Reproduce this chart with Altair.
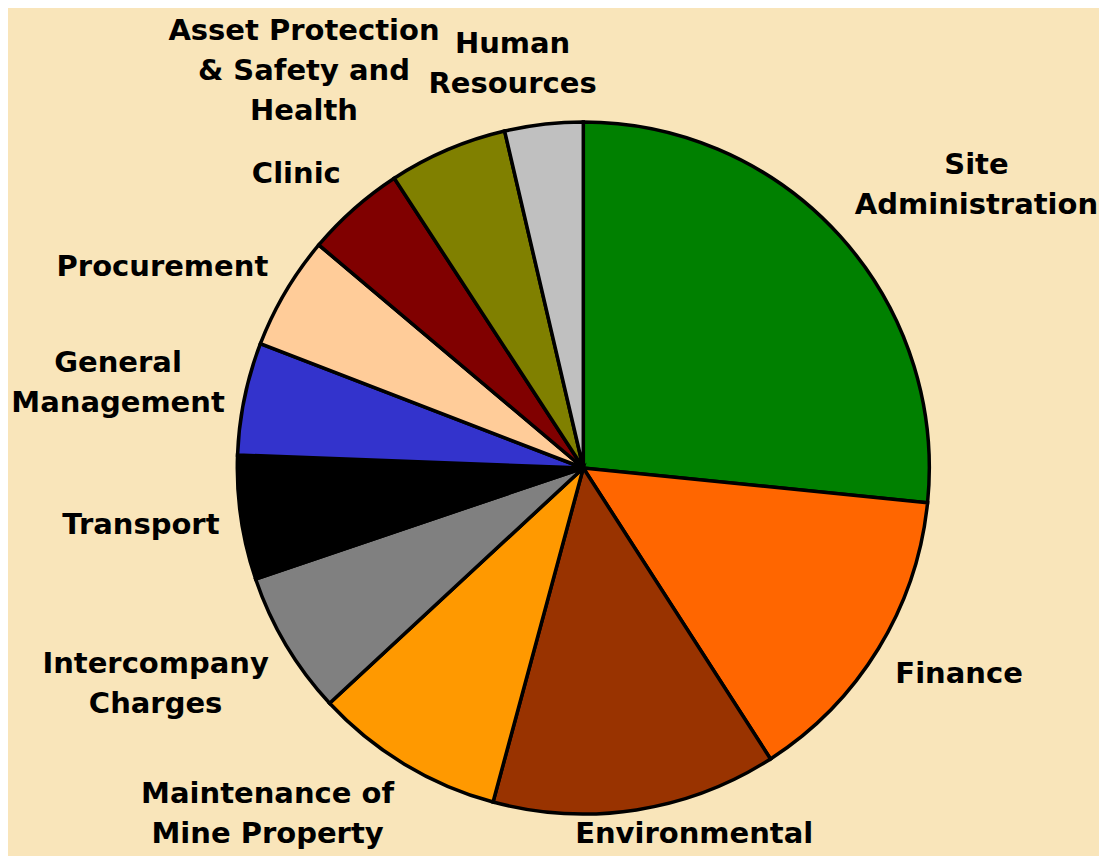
import altair as alt
import pandas as pd

# ---- data ----
categories = [
    "Site Administration", "Finance", "Environmental",
    "Maintenance of Mine Property", "Intercompany Charges", "Transport",
    "General Management", "Procurement", "Clinic",
    "Asset Protection & Safety and Health", "Human Resources",
]
label_text = [
    "Site\nAdministration", "Finance", "Environmental",
    "Maintenance of\nMine Property", "Intercompany\nCharges", "Transport",
    "General\nManagement", "Procurement", "Clinic",
    "Asset Protection\n& Safety and\nHealth", "Human\nResources",
]
shares = [26.6, 14.3, 13.3, 8.9, 6.7, 5.8, 5.25, 5.3, 4.65, 5.55, 3.65]
colors = [
    "#008000", "#FF6600", "#993300", "#FF9900", "#808080", "#000000",
    "#3333CC", "#FFCC99", "#800000", "#808000", "#C0C0C0",
]

# approximate advance widths (em) of DejaVu Sans Bold, used to centre label blocks
GLYPH_EM = {
    "A": 0.774, "C": 0.734, "E": 0.683, "F": 0.683, "G": 0.821, "H": 0.837,
    "I": 0.372, "M": 0.995, "P": 0.733, "R": 0.770, "S": 0.720, "T": 0.682,
    "a": 0.675, "b": 0.716, "c": 0.593, "d": 0.716, "e": 0.678, "f": 0.435,
    "g": 0.716, "h": 0.712, "i": 0.343, "l": 0.343, "m": 1.042, "n": 0.712,
    "o": 0.687, "p": 0.716, "r": 0.493, "s": 0.595, "t": 0.478, "u": 0.712,
    "v": 0.652, "y": 0.652, "&": 0.872, " ": 0.348,
}


def line_em(s):
    return sum(GLYPH_EM.get(ch, 0.65) for ch in s)


df = pd.DataFrame({
    "category": categories,
    "label": label_text,
    "share": shares,
    "idx": list(range(len(categories))),
})
df["nlines"] = [len(s.split("\n")) for s in label_text]
df["wem"] = [max(line_em(p) for p in s.split("\n")) for s in label_text]

# ---- layout / style ----
BG = "#F9E5BA"
W, H = 1091, 848
CX, CY, R = 575.3, 460.0, 346
RL = R + 20
LH = 40
FS = 29
YMAX = H - 12  # keep the last label line inside the chart

base = alt.Chart(df)

pie = base.mark_arc(outerRadius=R, stroke="black", strokeWidth=3.5, strokeJoin="miter").encode(
    theta=alt.Theta("share:Q", stack=True),
    color=alt.Color("category:N", scale=alt.Scale(domain=categories, range=colors), legend=None),
    order=alt.Order("idx:Q"),
    x=alt.value(CX),
    y=alt.value(CY),
)

labels = (
    base.transform_joinaggregate(total="sum(share)")
    .transform_window(cum="sum(share)", sort=[alt.SortField("idx")], frame=[None, 0])
    .transform_calculate(mid="2*PI*(datum.cum - datum.share/2)/datum.total")
    .transform_calculate(
        sx="clamp(3*sin(datum.mid), -1, 1)",
        sy="clamp(1.4*cos(datum.mid), -1, 1)",
    )
    .transform_calculate(
        lx=f"{CX} + {RL}*sin(datum.mid) + datum.sx*datum.wem*{FS}/2",
        ly0=f"{CY} - {RL}*cos(datum.mid) - datum.sy*datum.nlines*{LH}/2 - (datum.nlines-1)*{LH}/2",
    )
    .transform_calculate(
        ly=f"min(datum.ly0, {YMAX} - 10 - (datum.nlines-1)*{LH})",
    )
    .mark_text(
        align="center", baseline="middle", font="DejaVu Sans", fontWeight="bold",
        fontSize=FS, lineHeight=LH, lineBreak="\n", color="black",
    )
    .encode(
        x=alt.X("lx:Q", scale=None),
        y=alt.Y("ly:Q", scale=None),
        text="label:N",
    )
)

chart = alt.layer(pie, labels).properties(
    width=W, height=H, background=BG, padding=0, autosize="none"
).configure_view(stroke=None)

chart.save("out.html", embed_options={"renderer": "svg", "actions": False})
